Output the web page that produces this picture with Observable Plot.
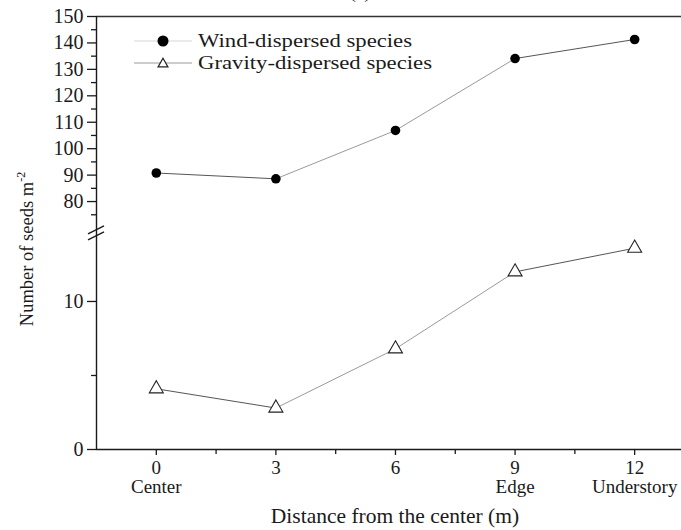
<!DOCTYPE html>
<html><head><meta charset="utf-8">
<script src="https://cdn.jsdelivr.net/npm/d3@7"></script>
<script src="https://cdn.jsdelivr.net/npm/@observablehq/plot@0.6"></script>
<style>
body{margin:0;background:#fff}
#chart{position:relative;width:681px;height:530px;overflow:hidden}
</style>
</head><body><div id="chart"></div>
<script>
// ---- data ----
const distances = [0, 3, 6, 9, 12];
const windSeeds = [90.8, 88.6, 106.9, 134.1, 141.3];
const gravitySeeds = [4.1, 2.8, 6.8, 12.0, 13.6];
const seriesNames = ["Wind-dispersed species", "Gravity-dispersed species"];
const xTicks = [0, 3, 6, 9, 12];
const xTickNames = ["Center", "", "", "Edge", "Understory"];
const xMinorTicks = [1.5, 4.5, 7.5, 10.5];
const yUpperTicks = [80, 90, 100, 110, 120, 130, 140, 150];
const yLowerTicks = [0, 10];
const yUpperMinor = [75, 85, 95, 105, 115, 125, 135, 145];
const yLowerMinor = [5];

// ---- broken y axis: lower part 0..lowerMax, upper part upperMin..upperMax ----
const lowerMax = 14.66, upperMin = 68.3, upperMax = 150;
const kL = 14.8, kU = 2.643;
const disp = v => v <= lowerMax ? v * kL : lowerMax * kL + (v - upperMin) * kU;
const dispMax = disp(upperMax);
const breakDisp = lowerMax * kL;

const rows = [];
distances.forEach((d, i) => {
  rows.push({series: seriesNames[0], x: d, v: windSeeds[i]});
  rows.push({series: seriesNames[1], x: d, v: gravitySeeds[i]});
});
function segments(vals, name) {
  const out = [];
  for (let i = 0; i < vals.length - 1; i++)
    out.push({series: name, i, x1: distances[i], x2: distances[i + 1], y1: disp(vals[i]), y2: disp(vals[i + 1])});
  return out;
}
const segs = [...segments(windSeeds, seriesNames[0]), ...segments(gravitySeeds, seriesNames[1])];
const dashFor = s => s.i === 0 ? (s.series === seriesNames[0] ? "7,3" : "3,2") : s.i === 3 ? "3,2" : null;

const majorY = [...yLowerTicks, ...yUpperTicks];
const labelOf = new Map(majorY.map(v => [disp(v), String(v)]));
const minorY = [...yLowerMinor, ...yUpperMinor];

const FONT = "Liberation Serif, Times New Roman, serif";
const INK = "#1a1a1a";
const TICKFS = 20;

const plot = Plot.plot({
  width: 681,
  height: 530,
  marginLeft: 96,
  marginRight: 0,
  marginTop: 16,
  marginBottom: 81,
  style: {fontFamily: FONT, fontSize: TICKFS + "px", color: INK, background: "#fff", overflow: "visible"},
  x: {domain: [-1.5, 13.175], axis: null},
  y: {domain: [0, dispMax], axis: null},
  marks: [
    Plot.axisY({ticks: majorY.map(disp), tickSize: 9, tickPadding: 4, strokeWidth: 1.3,
      tickFormat: d => labelOf.get(d), fontSize: TICKFS, label: null}),
    Plot.axisY({ticks: minorY.map(disp), tickSize: 5, strokeWidth: 1.3, tickFormat: () => "", label: null}),
    Plot.axisX({ticks: xTicks, tickSize: 6, tickPadding: 5, strokeWidth: 1.3, lineHeight: 1.0,
      tickFormat: d => { const n = xTickNames[xTicks.indexOf(d)]; return n ? d + "\n" + n : String(d); },
      fontSize: 19, label: null}),
    Plot.axisX({ticks: xMinorTicks, tickSize: 5, strokeWidth: 1.3, tickFormat: () => "", label: null}),
    Plot.ruleY([dispMax], {stroke: "#333", strokeWidth: 1.4}),
    Plot.ruleY([0], {stroke: INK, strokeWidth: 1.4}),
    Plot.ruleX([-1.5], {stroke: INK, strokeWidth: 1.4}),
    Plot.link(segs, {x1: "x1", x2: "x2", y1: "y1", y2: "y2",
      stroke: s => (s.i === 0 || s.i === 3) ? "#555" : "#9a9a9a",
      strokeDasharray: dashFor, strokeWidth: 1}),
    Plot.dot(rows.filter(r => r.series === seriesNames[0]), {x: "x", y: r => disp(r.v), r: 4.8, fill: "#000", stroke: "none"}),
    Plot.dot(rows.filter(r => r.series === seriesNames[1]), {x: "x", y: r => disp(r.v), symbol: "triangle", r: 5.2, fill: "#fff", stroke: "#222", strokeWidth: 1.1}),
    Plot.text(["Distance from the center (m)"], {frameAnchor: "bottom", dy: 67, dx: 6, fontSize: 21.5, lineAnchor: "middle"})
  ]
});
document.getElementById("chart").appendChild(plot);

// ---- decorations: break marks, y title, legend, cut-off panel title ----
const svg = d3.select(plot);
const sx = plot.scale("x"), sy = plot.scale("y");
const ax = sx.apply(-1.5), by = sy.apply(breakDisp);
[-2, 4].forEach(o => {
  svg.append("line").attr("x1", ax - 8).attr("y1", by + o + 4).attr("x2", ax + 8).attr("y2", by + o - 4)
    .attr("stroke", INK).attr("stroke-width", 1.4);
});

const yt = svg.append("text").attr("transform", "translate(33,249) rotate(-90)")
  .attr("text-anchor", "middle").attr("font-size", 18.5).attr("fill", INK).attr("font-family", FONT);
yt.append("tspan").text("Number of seeds m");
yt.append("tspan").attr("font-size", 12).attr("dy", -8).text("-2");

svg.append("text").attr("x", 360).attr("y", -2).attr("text-anchor", "middle")
  .attr("font-size", 19).attr("font-family", FONT).attr("fill", INK).text("(a)");

const lg = svg.append("g").attr("font-family", FONT).attr("font-size", 19.5).attr("fill", INK).attr("text-anchor", "start");
const legendRows = [
  {name: seriesNames[0], y: 41, line: "#d6d6d6", w: 214},
  {name: seriesNames[1], y: 63, line: "#9a9a9a", w: 234}
];
legendRows.forEach((d, i) => {
  lg.append("line").attr("x1", 134).attr("x2", 192).attr("y1", d.y).attr("y2", d.y).attr("stroke", d.line).attr("stroke-width", 1);
  if (i === 0) lg.append("circle").attr("cx", 163).attr("cy", d.y).attr("r", 5.5).attr("fill", "#000");
  else lg.append("path").attr("d", d3.symbol(d3.symbolTriangle2, 70)()).attr("transform", `translate(163,${d.y + 1})`)
    .attr("fill", "#fff").attr("stroke", "#222").attr("stroke-width", 1.2);
  lg.append("text").attr("x", 198).attr("y", d.y + 6).attr("text-anchor", "start")
    .attr("textLength", d.w).attr("lengthAdjust", "spacingAndGlyphs").text(d.name);
});
</script>
</body></html>
